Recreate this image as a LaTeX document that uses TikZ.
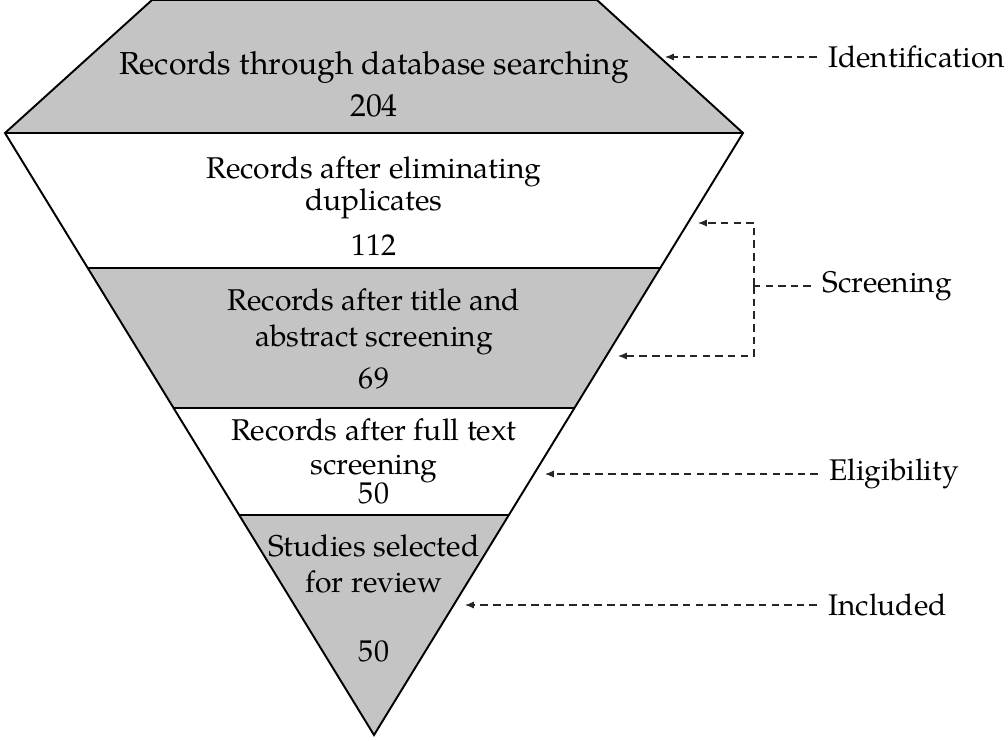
\documentclass[tikz,border=0pt]{standalone}
\usepackage{fontspec}
\setmainfont{TeX Gyre Pagella}
\usetikzlibrary{arrows.meta,calc}
\definecolor{bandgray}{RGB}{196,196,196}
\begin{document}
\begin{tikzpicture}[
    txt/.style={align=center,font=\fontsize{17.1}{20}\selectfont,inner sep=0pt},
    stage/.style={anchor=west,font=\fontsize{17}{20}\selectfont,inner xsep=0.22cm,inner ysep=0pt},
    flow/.style={black!85,line width=0.6pt,dash pattern=on 4.3pt off 2.9pt},
    flowarrow/.style={flow,-{Latex[length=5pt,width=4pt]}}
  ]
  \useasboundingbox (0,0) rectangle (20.16,-14.8);
  \coordinate (T1) at (3.04,0);
  \coordinate (T2) at (11.94,0);
  \coordinate (L) at (0.10,-2.66);
  \coordinate (R) at (14.86,-2.66);
  \coordinate (apex) at (7.48,-14.70);
  \coordinate (bl1) at ($(L)!0.2243!(apex)$);
  \coordinate (br1) at ($(R)!0.2243!(apex)$);
  \coordinate (bl2) at ($(L)!0.4568!(apex)$);
  \coordinate (br2) at ($(R)!0.4568!(apex)$);
  \coordinate (bl3) at ($(L)!0.6346!(apex)$);
  \coordinate (br3) at ($(R)!0.6346!(apex)$);
  \fill[bandgray] (T1) -- (T2) -- (R) -- (L) -- cycle;
  \fill[bandgray] (bl1) -- (br1) -- (br2) -- (bl2) -- cycle;
  \fill[bandgray] (bl3) -- (br3) -- (apex) -- cycle;
  \draw[line width=0.9pt] (bl1) -- (br1);
  \draw[line width=0.9pt] (bl2) -- (br2);
  \draw[line width=0.9pt] (bl3) -- (br3);
  \draw[line width=1.3pt] (L) -- (R);
  \draw[line width=1.1pt] (T1) -- (T2) -- (R) -- (apex) -- (L) -- cycle;
  \node[txt,font=\fontsize{18.1}{20}\selectfont] (search) at (7.48,-1.68) {Records through database searching\\[4pt] 204};
  \node[txt] (dedup) at (7.48,-4.12) {Records after eliminating\\[-1.5pt] duplicates\\[5.5pt] 112};
  \node[txt] (screen) at (7.48,-6.77) {Records after title and\\[0.5pt] abstract screening\\[4pt] 69};
  \node[txt] (fulltext) at (7.48,-9.23) {Records after full text\\[-0.5pt] screening\\[-3.5pt] 50};
  \node[txt] (selected) at (7.48,-11.97) {Studies selected\\[0.5pt] for review\\[19pt] 50};
  \node[stage] (identification) at (16.34,-1.14) {Identification};
  \node[stage] (screening) at (16.22,-5.72) {Screening};
  \node[stage] (eligibility) at (16.36,-9.48) {Eligibility};
  \node[stage] (included) at (16.34,-12.10) {Included};
  \coordinate (idtip) at (13.30,-1.14);
  \coordinate (scrmid) at (15.08,-5.72);
  \coordinate (scrtop) at (13.96,-4.46);
  \coordinate (scrbot) at (12.36,-7.12);
  \coordinate (eltip) at (10.90,-9.48);
  \coordinate (intip) at (9.30,-12.10);
  \draw[flowarrow] (identification) -- (idtip);
  \draw[flow] (screening) -- (scrmid);
  \draw[flowarrow] (scrmid) |- (scrtop);
  \draw[flowarrow] (scrmid) |- (scrbot);
  \draw[flowarrow] (eligibility) -- (eltip);
  \draw[flowarrow] (included) -- (intip);
\end{tikzpicture}
\end{document}
